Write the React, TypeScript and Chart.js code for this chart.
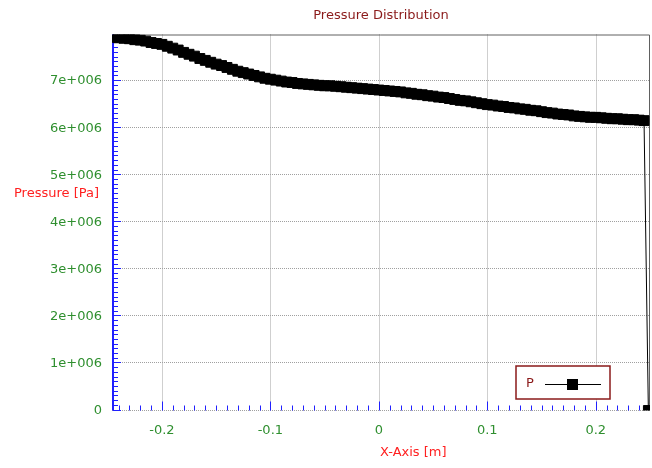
import React, { useEffect, useRef } from 'react';
import { Chart, registerables } from 'chart.js';

Chart.register(...registerables);

// Position along the channel [m]
const xPositions = [
  -0.245, -0.24, -0.235, -0.23, -0.225, -0.22, -0.215, -0.21, -0.205, -0.2,
  -0.195, -0.19, -0.185, -0.18, -0.175, -0.17, -0.165, -0.16, -0.155, -0.15,
  -0.145, -0.14, -0.135, -0.13, -0.125, -0.12, -0.115, -0.11, -0.105, -0.1,
  -0.095, -0.09, -0.085, -0.08, -0.075, -0.07, -0.065, -0.06, -0.055, -0.05,
  -0.045, -0.04, -0.035, -0.03, -0.025, -0.02, -0.015, -0.01, -0.005, 0,
  0.005, 0.01, 0.015, 0.02, 0.025, 0.03, 0.035, 0.04, 0.045, 0.05,
  0.055, 0.06, 0.065, 0.07, 0.075, 0.08, 0.085, 0.09, 0.095, 0.1,
  0.105, 0.11, 0.115, 0.12, 0.125, 0.13, 0.135, 0.14, 0.145, 0.15,
  0.155, 0.16, 0.165, 0.17, 0.175, 0.18, 0.185, 0.19, 0.195, 0.2,
  0.205, 0.21, 0.215, 0.22, 0.225, 0.23, 0.235, 0.24, 0.2445, 0.2485,
];

// Pressure P [Pa]
const pressure = [
  7930000, 7920000, 7910000, 7900000, 7880000, 7870000, 7850000, 7820000, 7800000, 7780000,
  7740000, 7700000, 7660000, 7610000, 7570000, 7530000, 7480000, 7440000, 7400000, 7360000,
  7330000, 7290000, 7250000, 7210000, 7180000, 7150000, 7120000, 7090000, 7060000, 7040000,
  7020000, 7000000, 6980000, 6970000, 6950000, 6940000, 6930000, 6920000, 6910000, 6900000,
  6900000, 6890000, 6880000, 6870000, 6860000, 6850000, 6840000, 6830000, 6820000, 6810000,
  6800000, 6790000, 6780000, 6770000, 6750000, 6740000, 6720000, 6710000, 6690000, 6680000,
  6660000, 6650000, 6630000, 6610000, 6590000, 6580000, 6560000, 6540000, 6520000, 6500000,
  6490000, 6470000, 6460000, 6440000, 6430000, 6410000, 6400000, 6380000, 6370000, 6350000,
  6330000, 6320000, 6300000, 6290000, 6280000, 6260000, 6250000, 6240000, 6230000, 6230000,
  6220000, 6210000, 6200000, 6200000, 6190000, 6180000, 6180000, 6170000, 6160000, 0,
];

const yTickValues = [0, 1e6, 2e6, 3e6, 4e6, 5e6, 6e6, 7e6];
const seriesName = 'P';
const chartTitle = 'Pressure Distribution';
const yTitle = 'Pressure [Pa]';
const xTitle = 'X-Axis [m]';

const FONT = '"DejaVu Sans", sans-serif';
const GREEN = '#2f8f2f';
const BLUE = '#2020ff';
const DARK_RED = '#8b1a1a';
const RED = '#ff2020';

const framePlugin = {
  id: 'frame',
  beforeDatasetsDraw(chart: any) {
    const { ctx, chartArea: a, scales } = chart;
    const xs = scales.x;
    const ys = scales.y;
    ctx.save();
    // dotted grid at major ticks
    ctx.strokeStyle = '#a0a0a0';
    ctx.lineWidth = 1;
    ctx.setLineDash([1, 1]);
    for (const t of xs.ticks) {
      const px = Math.round(xs.getPixelForValue(t.value)) + 0.5;
      ctx.beginPath();
      ctx.moveTo(px, a.top);
      ctx.lineTo(px, a.bottom);
      ctx.stroke();
    }
    for (const t of ys.ticks) {
      const py = Math.round(ys.getPixelForValue(t.value)) - 0.5;
      ctx.beginPath();
      ctx.moveTo(a.left, py);
      ctx.lineTo(a.right, py);
      ctx.stroke();
    }
    ctx.setLineDash([]);
    // top and right frame
    ctx.strokeStyle = '#606060';
    ctx.beginPath();
    ctx.moveTo(a.left, a.top + 0.5);
    ctx.lineTo(a.right - 0.5, a.top + 0.5);
    ctx.lineTo(a.right - 0.5, a.bottom);
    ctx.stroke();
    // blue left axis with minor ticks
    ctx.strokeStyle = BLUE;
    ctx.lineWidth = 2;
    ctx.beginPath();
    ctx.moveTo(a.left + 1, a.top);
    ctx.lineTo(a.left + 1, a.bottom);
    ctx.stroke();
    ctx.lineWidth = 1;
    for (let i = 0; i <= 79; i++) {
      const py = Math.round(ys.getPixelForValue(i * 1e5)) - 0.5;
      const len = i % 10 === 0 ? 8 : 5;
      ctx.beginPath();
      ctx.moveTo(a.left + 1, py);
      ctx.lineTo(a.left + 1 + len, py);
      ctx.stroke();
    }
    for (let i = -24; i <= 24; i++) {
      const px = Math.round(xs.getPixelForValue(i / 100)) + 0.5;
      const len = i % 10 === 0 ? 9 : 5;
      ctx.beginPath();
      ctx.moveTo(px, a.bottom);
      ctx.lineTo(px, a.bottom - len);
      ctx.stroke();
    }
    ctx.restore();
  },
  afterDraw(chart: any) {
    const { ctx } = chart;
    ctx.save();
    ctx.font = `13px ${FONT}`;
    ctx.textBaseline = 'middle';
    ctx.fillStyle = DARK_RED;
    ctx.textAlign = 'center';
    ctx.fillText(chartTitle, 381, 16);
    ctx.fillStyle = RED;
    ctx.textAlign = 'right';
    ctx.fillText(yTitle, 99, 194);
    ctx.textAlign = 'left';
    ctx.fillText(xTitle, 380, 453);

    // legend box
    ctx.fillStyle = '#ffffff';
    ctx.fillRect(516, 366, 94, 33);
    ctx.strokeStyle = DARK_RED;
    ctx.lineWidth = 1.5;
    ctx.strokeRect(516, 366, 94, 33);
    ctx.fillStyle = DARK_RED;
    ctx.textAlign = 'left';
    ctx.fillText(seriesName, 526, 384);
    ctx.strokeStyle = '#000';
    ctx.lineWidth = 1;
    ctx.beginPath();
    ctx.moveTo(545, 384.5);
    ctx.lineTo(601, 384.5);
    ctx.stroke();
    ctx.fillStyle = '#000';
    ctx.fillRect(567, 379, 11, 11);
    ctx.restore();
  },
};

const noPadding = (s: any) => {
  s.paddingLeft = 0;
  s.paddingRight = 0;
  s.paddingTop = 0;
  s.paddingBottom = 0;
};

export default function App() {
  const ref = useRef<HTMLCanvasElement>(null);

  useEffect(() => {
    if (!ref.current) return;
    const points = xPositions.map((x, i) => ({ x, y: pressure[i] }));
    const chart = new Chart(ref.current, {
      type: 'scatter',
      data: {
        datasets: [
          {
            label: seriesName,
            data: points,
            showLine: true,
            borderColor: '#000',
            borderWidth: 1,
            pointStyle: 'rect',
            pointRadius: 7,
            pointBorderWidth: 1,
            pointBackgroundColor: '#000',
            pointBorderColor: '#000',
          },
        ],
      },
      options: {
        responsive: false,
        animation: false,
        devicePixelRatio: 1,
        layout: { autoPadding: false, padding: { top: 34.5, right: 2, left: 0, bottom: 0 } },
        plugins: {
          legend: { display: false },
          tooltip: { enabled: false },
          title: { display: false },
        },
        scales: {
          x: {
            type: 'linear',
            min: -0.246,
            max: 0.25,
            grid: { display: false, drawTicks: false },
            border: { display: false },
            ticks: {
              stepSize: 0.1,
              includeBounds: false,
              color: GREEN,
              font: { family: FONT, size: 13 },
              padding: 12,
              maxRotation: 0,
              callback: (v: any) => {
                const r = Math.round(Number(v) * 10) / 10;
                return r === 0 ? '0' : String(r);
              },
            },
            afterFit: (s: any) => {
              s.height = 57.5;
              noPadding(s);
            },
          },
          y: {
            type: 'linear',
            min: 0,
            max: 7.99e6,
            grid: { display: false, drawTicks: false },
            border: { display: false },
            afterBuildTicks: (s: any) => {
              s.ticks = yTickValues.map((value) => ({ value }));
            },
            ticks: {
              color: GREEN,
              font: { family: FONT, size: 13 },
              padding: 10,
              callback: (v: any) => {
                const n = Number(v);
                return n === 0 ? '0' : `${Math.round(n / 1e6)}e+006`;
              },
            },
            afterFit: (s: any) => {
              s.width = 112;
              noPadding(s);
            },
          },
        },
      },
      plugins: [framePlugin],
    });
    return () => chart.destroy();
  }, []);

  return (
    <div style={{ position: 'fixed', left: 0, top: 0, width: 652, height: 468, background: '#fff' }}>
      <canvas ref={ref} width={652} height={468} />
    </div>
  );
}
